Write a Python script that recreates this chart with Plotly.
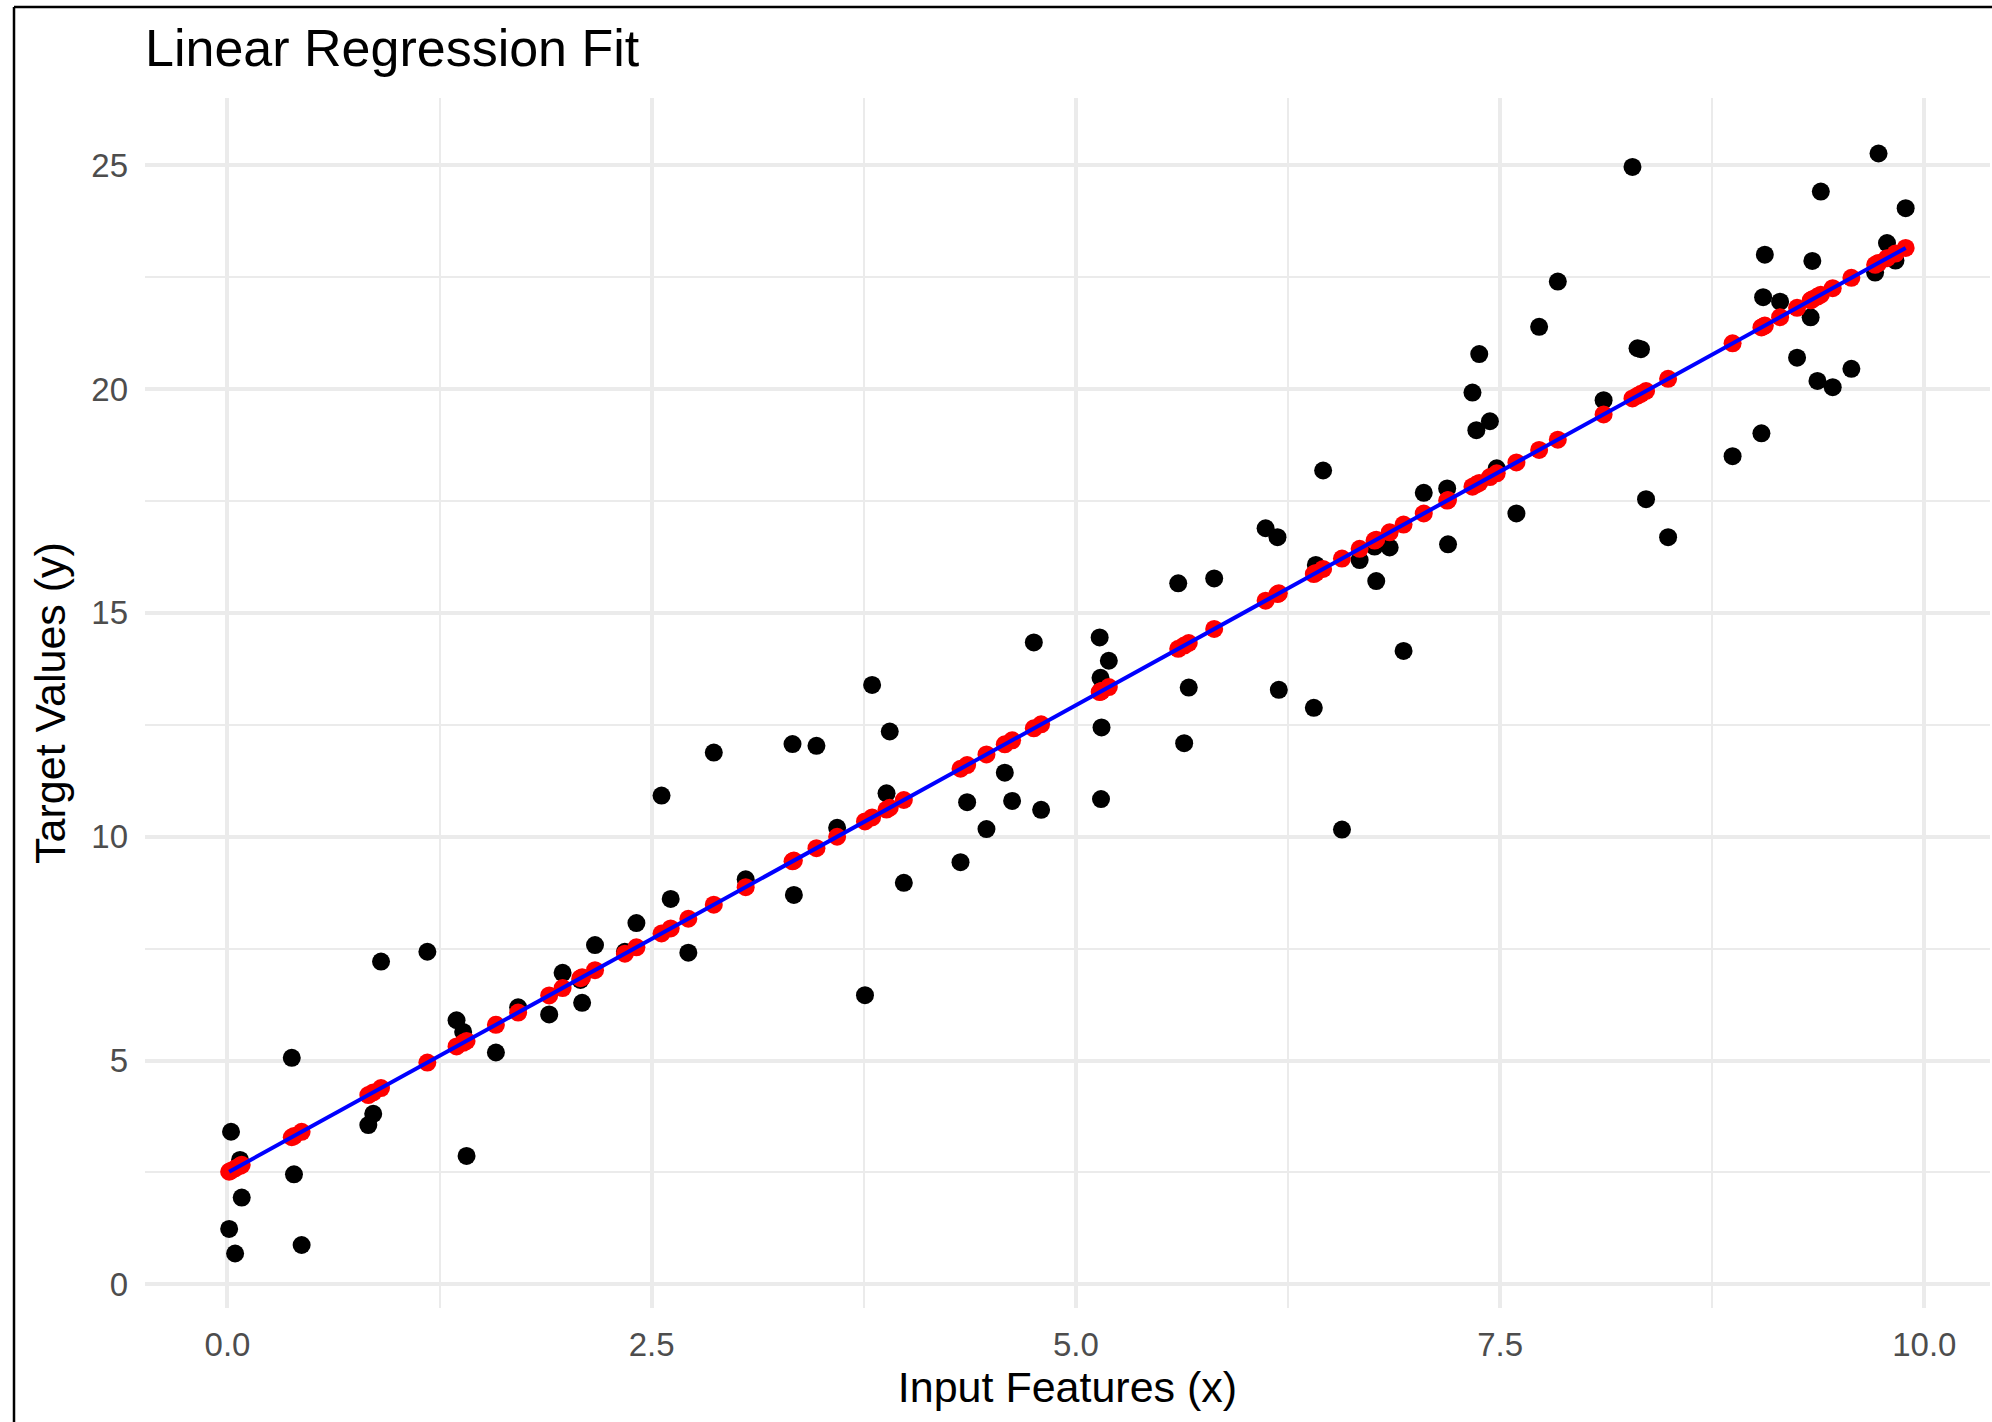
import numpy as np
import plotly.graph_objects as go

# Observed samples
x_obs = [
    0.010, 0.021, 0.045, 0.074, 0.084, 0.379, 0.392, 0.437, 0.830, 0.859,
    0.905, 1.178, 1.350, 1.389, 1.409, 1.582, 1.713, 1.896, 1.975, 2.080,
    2.090, 2.166, 2.342, 2.410, 2.558, 2.612, 2.716, 2.866, 3.054, 3.330,
    3.338, 3.471, 3.593, 3.757, 3.799, 3.884, 3.903, 3.986, 4.320, 4.359,
    4.473, 4.581, 4.624, 4.752, 4.795, 5.140, 5.145, 5.151, 5.148, 5.194,
    5.603, 5.638, 5.665, 5.815, 6.118, 6.188, 6.196, 6.402, 6.414, 6.457,
    6.568, 6.672, 6.760, 6.770, 6.849, 6.931, 7.050, 7.188, 7.193, 7.337,
    7.360, 7.377, 7.440, 7.480, 7.596, 7.730, 7.840, 8.110, 8.280, 8.310,
    8.330, 8.360, 8.490, 8.870, 9.040, 9.050, 9.060, 9.150, 9.250, 9.330,
    9.340, 9.370, 9.390, 9.460, 9.570, 9.710, 9.730, 9.780, 9.830, 9.890,
]
y_obs = [
    1.24, 3.41, 0.69, 2.78, 1.94, 5.06, 2.46, 0.88, 3.56, 3.81,
    7.21, 7.43, 5.90, 5.64, 2.87, 5.18, 6.19, 6.03, 6.96, 6.80,
    6.29, 7.58, 7.43, 8.07, 10.92, 8.61, 7.41, 11.88, 9.05, 12.07,
    8.70, 12.03, 10.20, 6.46, 13.39, 10.97, 12.35, 8.97, 9.43, 10.77,
    10.17, 11.43, 10.80, 14.34, 10.60, 14.45, 13.55, 12.44, 10.84, 13.93,
    15.66, 12.09, 13.33, 15.77, 16.89, 16.69, 13.28, 12.88, 16.07, 18.18,
    10.16, 16.18, 16.48, 15.71, 16.46, 14.15, 17.68, 17.78, 16.53, 19.92,
    19.08, 20.78, 19.28, 18.23, 17.22, 21.39, 22.40, 19.75, 24.96, 20.91,
    20.89, 17.54, 16.69, 18.50, 19.01, 22.05, 23.00, 21.95, 20.70, 21.60,
    22.86, 20.18, 24.41, 20.04, 20.45, 22.60, 25.26, 23.26, 22.87, 24.04,
]

x_ticks = [0.0, 2.5, 5.0, 7.5, 10.0]
x_tick_text = ["0.0", "2.5", "5.0", "7.5", "10.0"]
y_ticks = [0, 5, 10, 15, 20, 25]
y_tick_text = ["0", "5", "10", "15", "20", "25"]

# Ordinary least squares fit and predictions at each observed x
x_arr = np.array(x_obs)
y_arr = np.array(y_obs)
slope, intercept = np.polyfit(x_arr, y_arr, 1)
y_pred = intercept + slope * x_arr
order = np.argsort(x_arr)

FONT = "Liberation Sans, Arial, Helvetica, sans-serif"
GRID = "#EBEBEB"

fig = go.Figure()
fig.add_trace(go.Scatter(
    x=x_obs, y=y_obs, mode="markers",
    marker=dict(color="black", size=18, line=dict(width=0)),
    name="Observed", showlegend=False,
))
fig.add_trace(go.Scatter(
    x=x_arr.tolist(), y=y_pred.tolist(), mode="markers",
    marker=dict(color="#FF0000", size=18, line=dict(width=0)),
    name="Predicted", showlegend=False,
))
fig.add_trace(go.Scatter(
    x=x_arr[order].tolist(), y=y_pred[order].tolist(), mode="lines",
    line=dict(color="#0000FF", width=4),
    name="Fit", showlegend=False,
))

L, R, T, B = 145, 1990, 98, 1308
W, H = 1992, 1422

fig.update_layout(
    width=W, height=H,
    margin=dict(l=L, r=W - R, t=T, b=H - B, pad=0),
    paper_bgcolor="white",
    plot_bgcolor="white",
    font=dict(family=FONT, color="#4D4D4D"),
    title=dict(
        text="Linear Regression Fit",
        font=dict(family=FONT, size=52, color="black"),
        x=L / W, xanchor="left", xref="container",
        y=1 - 48 / H, yanchor="middle", yref="container",
    ),
    xaxis=dict(
        range=[-0.486, 10.387],
        tickvals=x_ticks, ticktext=x_tick_text,
        showgrid=True, gridcolor=GRID, gridwidth=3.5,
        minor=dict(dtick=1.25, tick0=0, showgrid=True, gridcolor=GRID, gridwidth=1.8),
        zeroline=False, showline=False, ticks="",
        ticklabelstandoff=14,
        tickfont=dict(family=FONT, size=33, color="#4D4D4D"),
        title=dict(text="Input Features (x)", standoff=8,
                   font=dict(family=FONT, size=43, color="black")),
        automargin=False,
    ),
    yaxis=dict(
        range=[-0.527, 26.50],
        tickvals=y_ticks, ticktext=y_tick_text,
        showgrid=True, gridcolor=GRID, gridwidth=3.5,
        minor=dict(dtick=2.5, tick0=0, showgrid=True, gridcolor=GRID, gridwidth=1.8),
        zeroline=False, showline=False, ticks="",
        ticklabelstandoff=16,
        tickfont=dict(family=FONT, size=33, color="#4D4D4D"),
        title=dict(text="Target Values (y)", standoff=12,
                   font=dict(family=FONT, size=43, color="black")),
        automargin=False,
    ),
    shapes=[
        # frame lines along the left and top edges of the image
        dict(type="line", xref="paper", yref="paper",
             x0=(14 - L) / (R - L), x1=(14 - L) / (R - L),
             y0=(B - H) / (B - T), y1=(B - 7) / (B - T),
             line=dict(color="black", width=2.5)),
        dict(type="line", xref="paper", yref="paper",
             x0=(14 - L) / (R - L), x1=(W - L) / (R - L),
             y0=(B - 7) / (B - T), y1=(B - 7) / (B - T),
             line=dict(color="black", width=2.5)),
    ],
)

fig.write_html("out.html")
